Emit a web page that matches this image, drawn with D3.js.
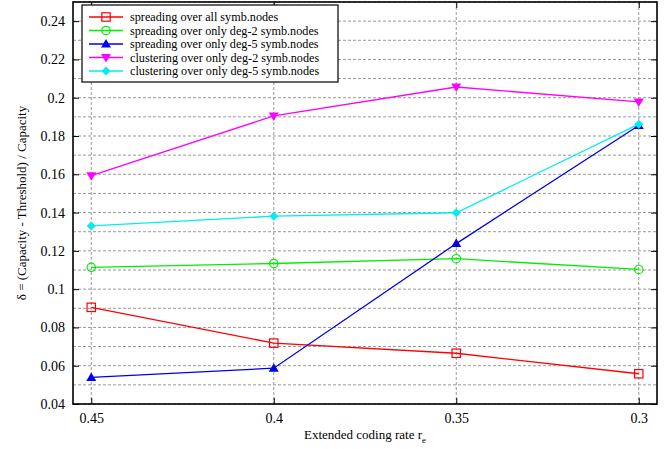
<!DOCTYPE html>
<html><head><meta charset="utf-8">
<script src="https://cdn.jsdelivr.net/npm/d3@7"></script>
<style>body{margin:0;background:#fff}svg{display:block}text{font-family:"Liberation Serif","Times New Roman",serif;}</style>
</head><body>
<svg id="c" width="665" height="449"></svg>
<script>
const rates = [0.45, 0.4, 0.35, 0.3];
const xTickLabels = ["0.45", "0.4", "0.35", "0.3"];
const yTicks = [0.04, 0.06, 0.08, 0.1, 0.12, 0.14, 0.16, 0.18, 0.2, 0.22, 0.24];
const yTickLabels = ["0.04", "0.06", "0.08", "0.1", "0.12", "0.14", "0.16", "0.18", "0.2", "0.22", "0.24"];
const seriesNames = ["spreading over all symb.nodes", "spreading over only deg-2 symb.nodes", "spreading over only deg-5 symb.nodes", "clustering over only deg-2 symb.nodes", "clustering over only deg-5 symb.nodes"];
const spreadAll = [0.0905, 0.0718, 0.0665, 0.0558];
const spreadDeg2 = [0.1114, 0.1134, 0.1159, 0.1103];
const spreadDeg5 = [0.0539, 0.0587, 0.1238, 0.1855];
const clustDeg2 = [0.1593, 0.1905, 0.2056, 0.1978];
const clustDeg5 = [0.1330, 0.1381, 0.1399, 0.1862];
const colors = ["#ff0000", "#00ee00", "#0000ee", "#ff00ff", "#00eeee"];
const markers = ["square", "circle", "triUp", "triDown", "diamond"];
const allSeries = [spreadAll, spreadDeg2, spreadDeg5, clustDeg2, clustDeg5];

const svg = d3.select("#c");
const L = 73, R = 657, T = 2, B = 404;
const x = d3.scaleLinear().domain([0.455, 0.295]).range([L, R]);
const y = d3.scaleLinear().domain([0.04, 0.25]).range([B, T]);

// grid
const minor = d3.range(0.04, 0.2501, 0.01);
svg.append("g").selectAll("line").data(minor).join("line")
  .attr("x1", L).attr("x2", R).attr("y1", d => y(d)).attr("y2", d => y(d))
  .attr("stroke", "#999").attr("stroke-width", 1).attr("stroke-dasharray", "3,2");
svg.append("g").selectAll("line").data(rates).join("line")
  .attr("x1", d => x(d)).attr("x2", d => x(d)).attr("y1", T).attr("y2", B)
  .attr("stroke", "#999").attr("stroke-width", 1).attr("stroke-dasharray", "3,2");

// axes
const yAxis = d3.axisLeft(y).tickValues(yTicks).tickFormat((d, i) => yTickLabels[i]).tickSize(-6).tickPadding(8);
const gy = svg.append("g").attr("transform", `translate(${L},0)`).call(yAxis);
const yAxisR = d3.axisRight(y).tickValues(yTicks).tickFormat("").tickSize(-6);
const gyr = svg.append("g").attr("transform", `translate(${R},0)`).call(yAxisR);
const xAxis = d3.axisBottom(x).tickValues(rates).tickFormat((d, i) => xTickLabels[i]).tickSize(-6).tickPadding(9);
const gx = svg.append("g").attr("transform", `translate(0,${B})`).call(xAxis);
const xAxisT = d3.axisTop(x).tickValues(rates).tickFormat("").tickSize(-6);
const gxt = svg.append("g").attr("transform", `translate(0,${T})`).call(xAxisT);
[gy, gyr, gx, gxt].forEach(g => {
  g.select(".domain").remove();
  g.selectAll(".tick line").attr("stroke", "#000").attr("stroke-width", 1);
  g.selectAll(".tick text").attr("font-family", "Liberation Serif, serif").attr("font-size", 14).attr("fill", "#000");
});
svg.append("rect").attr("x", L).attr("y", T).attr("width", R - L).attr("height", B - T)
  .attr("fill", "none").attr("stroke", "#000").attr("stroke-width", 1.6);

function drawMarker(g, type, cx, cy, col) {
  const s = 4.2;
  if (type === "square") g.append("rect").attr("x", cx - s).attr("y", cy - s).attr("width", 2 * s).attr("height", 2 * s).attr("fill", "none").attr("stroke", col).attr("stroke-width", 1.2);
  else if (type === "circle") g.append("circle").attr("cx", cx).attr("cy", cy).attr("r", s).attr("fill", "none").attr("stroke", col).attr("stroke-width", 1.2);
  else if (type === "triUp") g.append("path").attr("d", `M${cx},${cy - 5}L${cx + 5},${cy + 3.5}L${cx - 5},${cy + 3.5}Z`).attr("fill", col);
  else if (type === "triDown") g.append("path").attr("d", `M${cx},${cy + 5}L${cx + 5},${cy - 3.5}L${cx - 5},${cy - 3.5}Z`).attr("fill", col);
  else if (type === "diamond") g.append("path").attr("d", `M${cx},${cy - 4.5}L${cx + 4.5},${cy}L${cx},${cy + 4.5}L${cx - 4.5},${cy}Z`).attr("fill", col);
}

const line = d3.line().x((d, i) => x(rates[i])).y(d => y(d));
allSeries.forEach((vals, k) => {
  const g = svg.append("g");
  g.append("path").datum(vals).attr("d", line).attr("fill", "none").attr("stroke", colors[k]).attr("stroke-width", 1.3);
  vals.forEach((v, i) => drawMarker(g, markers[k], x(rates[i]), y(v), colors[k]));
});

// legend
const lg = svg.append("g");
lg.append("rect").attr("x", 82).attr("y", 5).attr("width", 256).attr("height", 77).attr("fill", "#fff").attr("stroke", "#000").attr("stroke-width", 1.2);
seriesNames.forEach((n, k) => {
  const yy = 17 + k * 13.5;
  lg.append("line").attr("x1", 89).attr("x2", 123).attr("y1", yy).attr("y2", yy).attr("stroke", colors[k]).attr("stroke-width", 1.3);
  drawMarker(lg, markers[k], 106, yy, colors[k]);
  lg.append("text").attr("x", 130).attr("y", yy + 4).attr("font-size", 12.2).attr("textLength", null).text(n);
});

// axis labels
const xl = svg.append("text").attr("x", 365).attr("y", 439).attr("text-anchor", "middle").attr("font-size", 13);
xl.append("tspan").text("Extended coding rate r");
xl.append("tspan").attr("font-size", 9).attr("dy", 4).text("e");
svg.append("text").attr("transform", "translate(26,203) rotate(-90)").attr("text-anchor", "middle").attr("font-size", 13)
  .text("δ = (Capacity - Threshold) / Capacity");
</script>
</body></html>
